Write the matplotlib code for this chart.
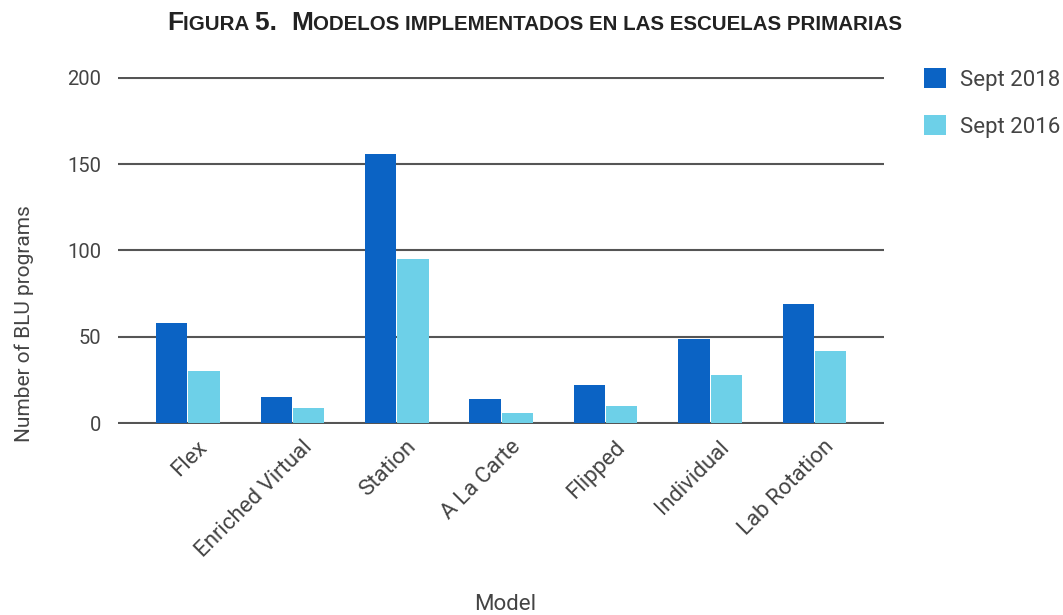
import matplotlib
matplotlib.use("Agg")
import matplotlib.pyplot as plt
import matplotlib.transforms as mtransforms
import numpy as np
from matplotlib.offsetbox import TextArea, HPacker, AnnotationBbox

# datos
models = ["Flex", "Enriched Virtual", "Station", "A La Carte", "Flipped", "Individual", "Lab Rotation"]
sept_2018 = [58, 15, 156, 14, 22, 49, 69]
sept_2016 = [30, 9, 95, 6, 10, 28, 42]
yticks = [0, 50, 100, 150, 200]

plt.rcParams['font.family'] = ['Roboto', 'DejaVu Sans']

fig = plt.figure(figsize=(10.63, 6.15), dpi=100)
ax = fig.add_axes([0.111, 0.3106, 0.721, 0.5642])

x = np.arange(len(models))
w = 0.30
ax.bar(x - 0.155, sept_2018, w, color='#0B63C4', label='Sept 2018', zorder=3)
ax.bar(x + 0.155, sept_2016, w, color='#6DD0E8', label='Sept 2016', zorder=3)

ax.set_xlim(-0.67, 6.67)
ax.set_ylim(-0.4, 200.4)
ax.set_yticks(yticks)
ax.yaxis.grid(True, color='#555555', linewidth=1.5, zorder=0)
for s in ax.spines.values():
    s.set_visible(False)
ax.tick_params(axis='y', length=0, pad=12, labelsize=14.5, labelcolor='#444444')
ax.set_xticks(x)
ax.set_xticklabels(models, rotation=45, ha='right', rotation_mode='anchor',
                   fontsize=16, color='#444444')
ax.tick_params(axis='x', length=0, pad=9)
shift = mtransforms.ScaledTranslation(0.09, 0, fig.dpi_scale_trans)
for lab in ax.get_xticklabels():
    lab.set_transform(lab.get_transform() + shift)

ax.set_ylabel("Number of BLU programs", fontsize=15, color='#444444')
ax.yaxis.set_label_coords(-0.11, 0.29)
ax.set_xlabel("Model", fontsize=16, color='#444444')
ax.xaxis.set_label_coords(0.505, -0.49)

fig.legend(loc='upper left', bbox_to_anchor=(904 / 1063, 1 - 48 / 615), frameon=False,
           handlelength=1.0, handleheight=1.0, fontsize=16, labelspacing=1.1,
           handletextpad=0.6, labelcolor='#444444')

# titulo en versalitas
big, small = 19, 14.8
fam = ['Liberation Sans Narrow', 'Liberation Sans', 'DejaVu Sans']
parts = [("F", big), ("IGURA ", small), ("5.  ", big), ("M", big),
         ("ODELOS IMPLEMENTADOS EN LAS ESCUELAS PRIMARIAS", small)]
boxes = [TextArea(t, textprops=dict(fontsize=sz, fontweight='bold', color='#222222', family=fam))
         for t, sz in parts]
title = HPacker(children=boxes, align='baseline', pad=0, sep=0)
fig.add_artist(AnnotationBbox(title, (0.503, 0.963), xycoords='figure fraction',
                              frameon=False, box_alignment=(0.5, 0.5)))

fig.savefig("out.png", dpi=100)
